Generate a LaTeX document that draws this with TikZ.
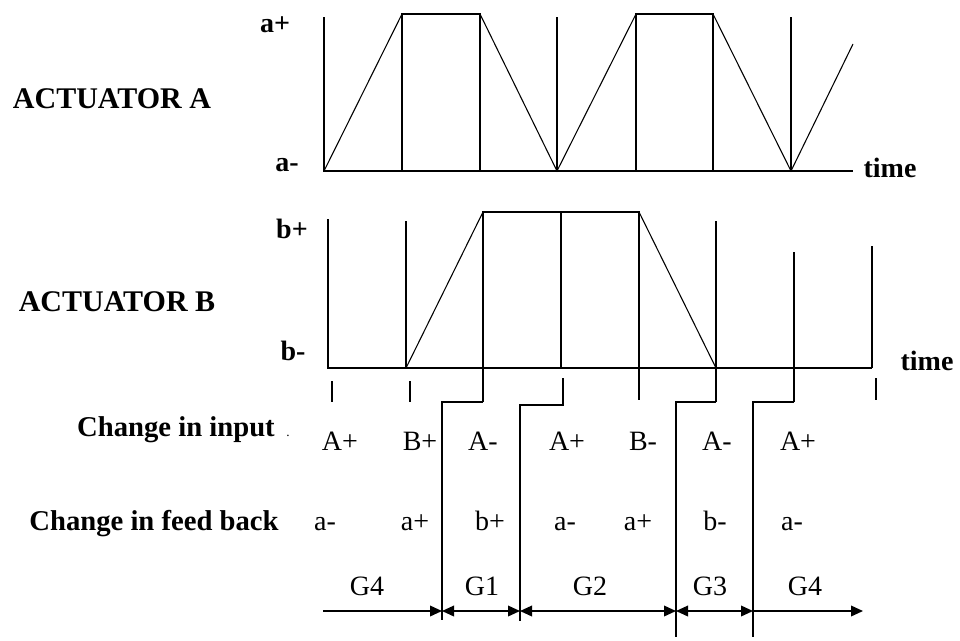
\documentclass[tikz,border=0pt]{standalone}
\usepackage{fontspec}
\setmainfont{Liberation Serif}
\usetikzlibrary{arrows.meta}
\begin{document}
\begin{tikzpicture}[x=0.75pt,y=-0.75pt,line width=1.1pt,
  lbl/.style={font=\fontsize{21}{23}\selectfont,inner sep=0pt,anchor=base},
  blbl/.style={font=\fontsize{21}{23}\selectfont\bfseries,inner sep=0pt,anchor=base},
  ttl/.style={font=\fontsize{21.5}{24}\selectfont\bfseries,inner sep=0pt,anchor=base},
  act/.style={font=\fontsize{22.5}{25}\selectfont\bfseries,inner sep=0pt,anchor=base},
  ramp/.style={line width=0.8pt},
  onetip/.style={-{Triangle[length=9pt,width=8pt]}},
  twotip/.style={{Triangle[length=9pt,width=8pt]}-{Triangle[length=9pt,width=8pt]}}]
\useasboundingbox (0,0) rectangle (960,640);

% ---------- Actuator A ----------
\draw (324,17) -- (324,171) -- (853,171);
\draw (402,171) -- (402,14) -- (480,14) -- (480,171);
\draw (557,17) -- (557,171);
\draw (636,171) -- (636,14) -- (713,14) -- (713,171);
\draw (791,17) -- (791,171);
\draw[ramp] (324,171) -- (402,14);
\draw[ramp] (480,14) -- (557,171) -- (636,14);
\draw[ramp] (713,14) -- (791,171) -- (853,44);

\node[act] (actA) at (112,108) {ACTUATOR A};
\node[blbl] (ap) at (275,32) {a+};
\node[blbl] (am) at (287,171) {a-};
\node[blbl] (timeA) at (890,177) {time};

% ---------- Actuator B ----------
\draw (328,219) -- (328,368) -- (872,368);
\draw (406,221) -- (406,368);
\draw (483,402) -- (483,212) -- (639,212) -- (639,400);
\draw (561,212) -- (561,368);
\draw (716,221) -- (716,402);
\draw (794,252) -- (794,402);
\draw (872,246) -- (872,368);
\draw[ramp] (406,368) -- (483,212);
\draw[ramp] (639,212) -- (716,368);

\node[act] (actB) at (117,311) {ACTUATOR B};
\node[blbl] (bp) at (292,238) {b+};
\node[blbl] (bm) at (293,360) {b-};
\node[blbl] (timeB) at (927,370) {time};

% ticks below the time axis
\draw (332,381) -- (332,402);
\draw (410,381) -- (410,402);
\draw (876,378) -- (876,400);

% ---------- group boundaries ----------
\coordinate (s1) at (442,620);
\coordinate (s2) at (520,621);
\coordinate (s3) at (676,637);
\coordinate (s4) at (753,637);
\draw (483,402) -- (442,402) -- (s1);
\draw (563,378) -- (563,405) -- (520,405) -- (s2);
\draw (716,402) -- (676,402) -- (s3);
\draw (794,402) -- (753,402) -- (s4);

% ---------- rows of text ----------
\node[ttl] (cin) at (176,436) {Change in input};
\node[inner sep=0pt,anchor=base,font=\fontsize{10}{12}\selectfont] (dot) at (288,436) {.};
\node[ttl] (cfb) at (154,530) {Change in feed back};

\foreach \x/\t [count=\i] in {340/A+,420/B+,483/A-,567/A+,643/B-,717/A-,798/A+}
  \node[lbl] (in\i) at (\x,450) {\t};
\foreach \x/\t [count=\i] in {325/a-,415/a+,490/b+,565/a-,638/a+,715/b-,792/a-}
  \node[lbl] (fb\i) at (\x,530) {\t};

% ---------- group arrows ----------
\coordinate (g0) at (323,611);
\coordinate (g1) at (442,611);
\coordinate (g2) at (520,611);
\coordinate (g3) at (676,611);
\coordinate (g4) at (753,611);
\coordinate (g5) at (863,611);
\draw[onetip] (g0) -- (g1);
\draw[twotip] (g1) -- (g2);
\draw[twotip] (g2) -- (g3);
\draw[twotip] (g3) -- (g4);
\draw[onetip] (g4) -- (g5);

\node[lbl] (G4a) at (367,595) {G4};
\node[lbl] (G1) at (482,595) {G1};
\node[lbl] (G2) at (590,595) {G2};
\node[lbl] (G3) at (710,595) {G3};
\node[lbl] (G4b) at (805,595) {G4};
\end{tikzpicture}
\end{document}
